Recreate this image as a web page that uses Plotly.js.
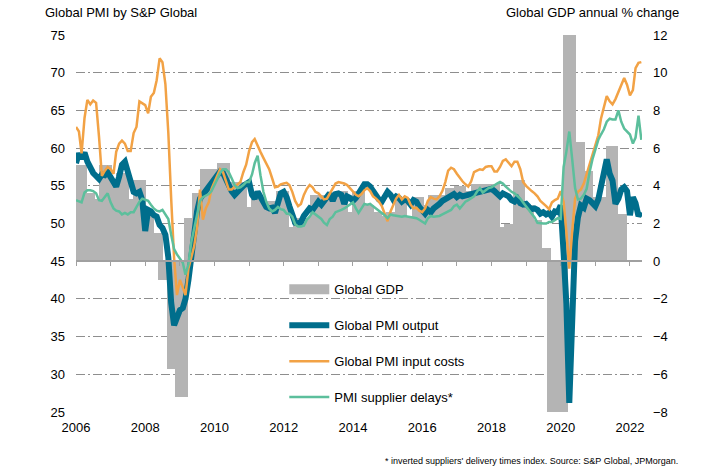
<!DOCTYPE html>
<html>
<head>
<meta charset="utf-8">
<script src="https://cdn.plot.ly/plotly-3.0.1.min.js"></script>
<style>html,body{margin:0;padding:0;background:#fff;}#chart{width:723px;height:475px;}</style>
</head>
<body>
<div id="chart"></div>
<script>
// Monthly series, Jan 2006 - May 2022
const firstYear = 2006;
const pmiOutput = [
 58.0,59.3,58.6,59.4,58.2,57.2,56.7,56.3,55.9,56.5,56.4,56.8,
 56.0,55.5,54.9,56.2,57.8,58.2,56.9,55.1,54.2,54.0,54.2,53.1,
 49.0,51.8,51.6,51.1,50.9,49.8,49.4,48.5,45.5,39.5,36.5,37.5,
 38.5,38.8,40.0,42.5,45.5,49.0,51.6,53.3,53.8,54.2,54.7,55.3,
 55.8,56.2,56.9,56.7,55.8,55.0,54.3,53.8,54.1,54.6,55.0,55.3,
 55.5,53.8,53.3,54.2,53.5,52.8,52.2,52.0,52.1,51.4,53.0,54.0,
 54.2,53.5,52.3,51.0,50.1,50.0,50.2,51.0,51.7,52.0,51.8,52.2,
 52.9,52.5,52.9,53.5,54.0,53.0,53.9,54.0,53.8,52.6,53.6,53.4,
 53.0,53.4,54.0,54.6,55.2,55.2,54.9,54.3,53.6,53.2,52.9,53.5,
 54.2,53.8,53.2,53.6,53.4,52.9,53.2,53.0,52.5,53.1,52.9,52.2,
 51.6,51.3,51.8,51.5,52.0,52.2,52.6,53.0,53.2,53.4,53.8,53.9,
 53.5,53.8,53.6,53.7,53.8,53.7,53.9,54.0,54.2,54.3,54.4,54.4,
 54.6,54.3,53.9,53.6,54.0,53.8,53.6,53.1,52.9,53.3,52.7,52.5,
 52.6,52.2,51.9,52.0,51.8,51.3,51.5,51.2,51.4,50.9,51.6,51.5,
 52.4,46.1,39.4,26.2,36.3,47.7,50.8,52.4,52.1,53.3,53.1,52.7,
 52.3,53.2,54.8,56.3,58.5,56.6,55.7,52.6,53.3,54.5,54.8,54.3,
 51.1,53.5,52.7,51.0,51.5
];
const pmiInputCosts = [
 62.8,62.2,59.3,64.0,66.4,65.8,66.3,66.0,61.5,56.3,57.0,57.5,
 57.2,56.6,59.5,60.6,61.0,60.6,59.6,59.6,62.0,62.8,66.2,65.9,
 65.7,64.6,66.8,67.3,69.0,71.9,71.4,68.5,62.0,53.3,45.4,40.5,
 42.5,41.5,40.5,44.0,45.5,47.0,49.5,54.5,50.5,52.0,52.8,54.6,
 55.5,56.4,57.2,56.8,55.6,54.5,54.5,54.8,55.2,55.5,56.8,57.8,
 59.6,60.8,61.2,60.2,59.5,58.7,57.9,57.2,56.0,54.8,54.9,55.2,
 55.3,55.4,55.1,54.2,53.0,52.3,52.6,53.8,54.6,55.1,54.8,54.2,
 54.0,53.5,53.2,53.3,54.0,54.8,55.3,55.5,55.4,55.3,55.1,54.7,
 54.2,53.8,53.6,53.9,54.4,54.7,54.3,53.6,53.3,52.9,52.3,51.2,
 50.3,51.6,52.5,53.3,53.8,53.2,53.6,53.4,52.5,52.0,52.1,51.7,
 51.5,52.0,53.0,53.5,53.3,53.2,53.6,54.3,55.5,57.0,57.4,57.2,
 56.6,56.0,55.6,55.2,54.9,55.6,56.8,57.0,57.2,57.1,57.5,57.6,
 57.6,56.9,56.9,57.5,58.3,58.5,58.0,57.6,58.2,58.2,57.2,55.5,
 55.0,54.6,54.3,54.0,53.6,53.0,52.7,52.3,51.9,52.8,53.1,53.3,
 54.3,52.9,48.9,44.0,48.9,53.3,54.2,54.5,55.3,56.6,57.8,59.2,
 60.4,61.7,63.9,65.3,66.9,66.2,65.8,66.5,67.5,68.5,69.3,68.4,
 67.0,67.7,70.6,71.3,71.4
];
const pmiSupplierDelays = [
 53.1,52.9,52.8,54.1,54.4,54.4,54.3,54.0,53.1,53.0,53.6,54.0,
 52.8,52.0,51.7,51.6,51.2,51.4,51.2,51.5,51.5,52.3,52.9,53.3,
 53.2,53.0,52.5,52.0,51.7,51.6,51.8,51.2,50.6,48.5,46.6,45.9,
 45.4,44.8,43.2,44.6,47.5,49.5,51.2,53.0,53.5,53.7,53.9,54.3,
 55.0,55.9,56.7,57.2,57.2,56.8,56.0,55.1,54.7,54.8,55.1,55.5,
 55.5,56.5,58.0,59.0,56.4,54.2,52.9,52.0,51.6,51.8,52.2,51.9,
 51.8,51.3,51.3,50.9,49.9,49.6,49.6,49.7,50.5,50.9,51.5,51.2,
 51.0,50.6,50.1,49.8,50.6,50.9,51.5,51.6,51.8,52.0,52.3,52.6,
 52.8,52.0,51.4,52.0,52.6,52.5,52.6,52.3,52.0,51.8,51.5,51.1,
 50.7,51.2,51.1,51.0,51.0,50.9,51.0,50.9,50.8,50.7,50.7,50.5,
 50.2,50.0,50.7,51.0,50.9,50.9,51.0,51.2,51.4,51.6,51.8,52.3,
 52.5,52.0,52.5,52.9,53.1,53.4,53.6,54.2,54.7,54.1,54.4,54.7,
 54.8,55.1,55.3,55.5,55.3,54.9,54.5,54.2,54.0,53.7,53.3,52.8,
 52.3,51.9,51.4,50.8,50.1,50.0,50.0,50.0,50.2,50.2,50.4,50.7,
 50.6,57.5,59.5,62.2,58.6,54.7,53.2,53.3,53.8,54.6,56.8,58.5,
 59.8,61.1,61.8,62.5,63.5,63.9,63.8,63.8,65.0,63.5,62.6,62.2,
 61.8,60.6,61.4,64.3,61.1
];
// Quarterly global GDP, 2006Q1 - 2022Q1 (% change, right axis)
const gdpGrowth = [
 5.1,3.6,3.3,5.1,
 4.0,4.7,3.3,4.3,
 2.4,1.5,-1.0,-5.7,
 -7.2,2.3,3.6,4.9,
 4.9,5.2,4.2,4.2,
 2.9,3.3,3.2,3.2,
 3.7,1.8,2.3,2.3,
 3.5,3.5,3.5,3.7,
 2.6,3.7,3.0,2.6,
 2.4,2.6,3.4,2.4,
 3.4,3.0,3.5,3.5,
 3.9,4.0,3.7,4.1,
 4.1,4.1,1.8,2.0,
 4.3,3.0,2.2,0.7,
 -8.0,-8.0,12.0,6.3,
 4.8,3.4,3.4,6.1,
 2.5
];

const months = pmiOutput.map((_, i) => {
  const d = new Date(Date.UTC(firstYear, i, 1));
  return d.toISOString().slice(0, 10);
});
const quarterIdx = gdpGrowth.map((_, i) => i);

const FONT = 'Liberation Sans, Arial, sans-serif';
const GRID = '#8e8e8e';

const traces = [
  {type:'bar', x:quarterIdx, y:gdpGrowth, xaxis:'x', yaxis:'y', width:1.5,
   marker:{color:'#b4b4b4', line:{width:0}}, showlegend:false, name:'Global GDP', hoverinfo:'skip'},
  {type:'scatter', mode:'lines', x:[null], y:[null], xaxis:'x2', yaxis:'y2',
   line:{color:'#b4b4b4', width:12}, name:'Global GDP', legendgroup:'a'},
  {type:'scatter', mode:'lines', x:months, y:pmiOutput, xaxis:'x2', yaxis:'y2',
   line:{color:'#006e8c', width:6}, name:'Global PMI output', legendgroup:'b'},
  {type:'scatter', mode:'lines', x:months, y:pmiInputCosts, xaxis:'x2', yaxis:'y2',
   line:{color:'#f2a245', width:2.5}, name:'Global PMI input costs', legendgroup:'c'},
  {type:'scatter', mode:'lines', x:months, y:pmiSupplierDelays, xaxis:'x2', yaxis:'y2',
   line:{color:'#5cbf9c', width:2.5}, name:'PMI supplier delays*', legendgroup:'d'}
];

const layout = {
  width:723, height:475,
  margin:{l:76, r:81, t:35, b:63},
  paper_bgcolor:'#fff', plot_bgcolor:'rgba(0,0,0,0)',
  font:{family:FONT, size:13, color:'#000'},
  showlegend:true,
  bargap:0,
  xaxis:{type:'linear', range:[-0.5, 66.56], visible:false, fixedrange:true},
  yaxis:{side:'right', range:[-8,12], dtick:2, tick0:0, showgrid:true, gridcolor:GRID,
         griddash:'9px,3px,2px,3px', gridwidth:1, zeroline:false, showline:false,
         ticks:'', ticklabelstandoff:10, tickfont:{family:FONT, size:13, color:'#000'}},
  xaxis2:{type:'date', overlaying:'x', anchor:'free', position:0.4, side:'bottom',
          range:['2006-01-01','2022-05-08'], showline:true, linecolor:'#a0a0a0', linewidth:2,
          ticks:'outside', ticklen:4, tickcolor:'#a0a0a0', tickwidth:1,
          dtick:'M12', tick0:'2006-01-01', tickformat:'%Y', ticklabelstep:2,
          ticklabelstandoff:150, showgrid:false, zeroline:false,
          tickfont:{family:FONT, size:13, color:'#000'}},
  yaxis2:{overlaying:'y', side:'left', anchor:'x2', range:[25,75], dtick:5, showgrid:false,
          zeroline:false, showline:false, ticks:'', ticklabelstandoff:10,
          tickfont:{family:FONT, size:13, color:'#000'}},
  legend:{x:0.368, y:0.365, xanchor:'left', yanchor:'top', bgcolor:'rgba(0,0,0,0)',
          tracegroupgap:16, itemwidth:40, font:{family:FONT, size:13, color:'#000'}},
  annotations:[
    {text:'Global PMI by S&P Global', xref:'paper', yref:'paper', x:-0.0583, y:1.0584,
     xanchor:'left', yanchor:'middle', showarrow:false, font:{family:FONT, size:13}},
    {text:'Global GDP annual % change', xref:'paper', yref:'paper', x:1.0689, y:1.0584,
     xanchor:'right', yanchor:'middle', showarrow:false, font:{family:FONT, size:13}},
    {text:"* inverted suppliers' delivery times index. Source: S&P Global, JPMorgan.",
     xref:'paper', yref:'paper', x:1.0671, y:-0.130, xanchor:'right', yanchor:'middle',
     showarrow:false, font:{family:FONT, size:9}}
  ]
};

Plotly.newPlot('chart', traces, layout, {displayModeBar:false, staticPlot:true});
</script>
</body>
</html>
